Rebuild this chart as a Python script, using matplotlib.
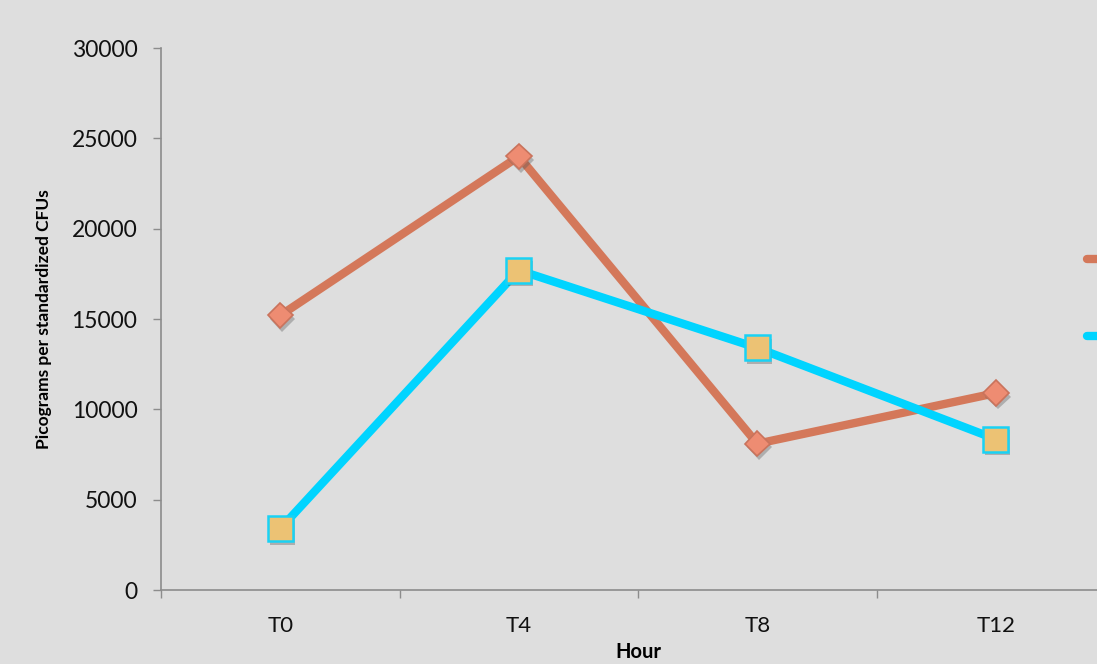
import matplotlib
matplotlib.use("Agg")
import matplotlib.pyplot as plt
import matplotlib.patheffects as pe
from matplotlib.ticker import FixedLocator, NullFormatter, FixedFormatter

hours = ["T0", "T4", "T8", "T12"]
series_a = [15200, 24000, 8100, 10900]
series_b = [3400, 17700, 13400, 8350]
y_ticks = [0, 5000, 10000, 15000, 20000, 25000, 30000]

BG = "#dedede"
SPINE = "#8c8c8c"
plt.rcParams["font.family"] = ["Lato", "DejaVu Sans"]

fig = plt.figure(figsize=(10.97, 6.64), dpi=100, facecolor=BG)
# plot area runs past the right edge, like the exported slide
ax = fig.add_axes([0.1468, 0.1114, 0.8697, 0.8163])
ax.set_facecolor(BG)

x = list(range(len(hours)))
shadow = [pe.SimplePatchShadow(offset=(1.5, -2.5), alpha=0.35, shadow_rgbFace="#555555"), pe.Normal()]

line_a, = ax.plot(x, series_a, color="#d4785a", lw=6, solid_capstyle="round", zorder=2)
line_b, = ax.plot(x, series_b, color="#00d4ff", lw=6, solid_capstyle="round", zorder=3)
ax.plot(x, series_a, ls="none", marker="D", ms=13, mfc="#ee8c72", mec="#c9735c", mew=1.2,
        path_effects=shadow, zorder=4)
ax.plot(x, series_b, ls="none", marker="s", ms=18, mfc="#ecc274", mec="#19d2f5", mew=1.8,
        path_effects=shadow, zorder=5)

ax.set_xlim(-0.5, len(hours) - 0.5)
ax.set_ylim(0, 30000)
ax.xaxis.set_major_locator(FixedLocator([i - 0.5 for i in range(len(hours) + 1)]))
ax.xaxis.set_major_formatter(NullFormatter())
ax.xaxis.set_minor_locator(FixedLocator(x))
ax.xaxis.set_minor_formatter(FixedFormatter(hours))
ax.tick_params(axis="x", which="major", length=6, width=1, color=SPINE)
ax.tick_params(axis="x", which="minor", length=0, pad=19, labelsize=16, labelcolor="#111111")
ax.set_yticks(y_ticks)
ax.set_yticklabels([str(v) for v in y_ticks])
ax.tick_params(axis="y", length=6, width=1, color=SPINE, pad=11, labelsize=16.5, labelcolor="#111111")

for side in ("top", "right"):
    ax.spines[side].set_visible(False)
for side in ("left", "bottom"):
    ax.spines[side].set_color(SPINE)
    ax.spines[side].set_linewidth(1.2)

ax.set_ylabel("Picograms per standardized CFUs", fontsize=12.5, fontweight="bold", labelpad=14)
ax.set_xlabel("Hour", fontsize=14.5, fontweight="bold", labelpad=4)

# legend entries sit at the cropped right edge, names fall outside the frame
ax.legend([line_a, line_b], ["", ""], loc="upper left",
          bbox_to_anchor=(1087 / 1097, 1 - 252 / 664), bbox_transform=fig.transFigure,
          frameon=False, fontsize=14, handlelength=2.5, labelspacing=3.1, borderpad=0, borderaxespad=0,
          handletextpad=0.6)

fig.savefig("out.png", dpi=100, facecolor=BG)
